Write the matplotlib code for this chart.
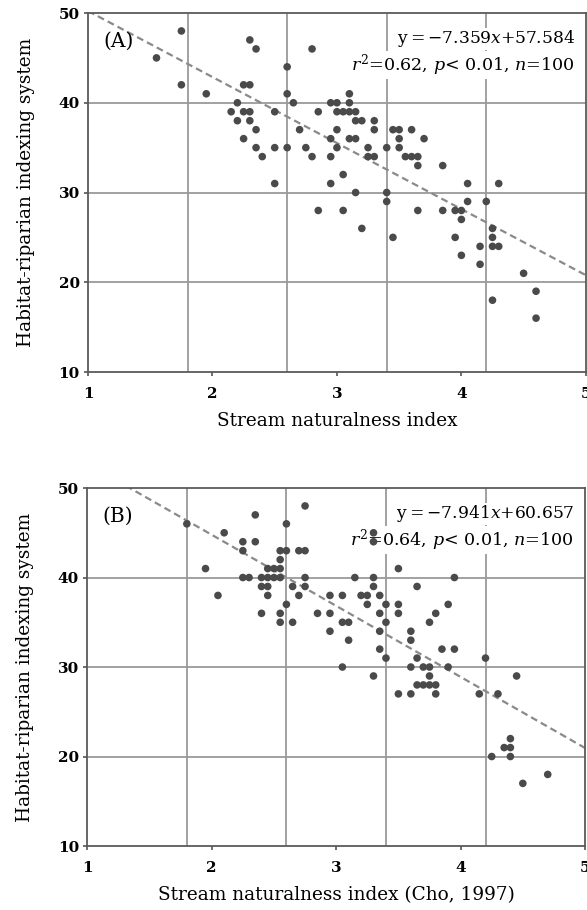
import numpy as np
import matplotlib.pyplot as plt
import matplotlib as mpl

mpl.rcParams['font.family'] = 'DejaVu Serif'
mpl.rcParams['mathtext.fontset'] = 'dejavuserif'
mpl.rcParams['lines.scale_dashes'] = False

# panel A: stream naturalness index vs habitat-riparian indexing system
xA = [1.55, 1.75, 1.75, 1.95, 2.3, 2.35, 2.8, 2.6, 2.25, 2.3, 2.6, 2.65, 2.2, 2.15, 2.25,
      2.3, 2.5, 2.85, 2.95, 3.0, 3.1, 3.1, 3.0, 3.05, 3.1, 3.15, 2.2, 2.3, 2.35, 3.15,
      3.2, 3.3, 3.3, 2.7, 3.0, 3.45, 3.5, 3.6, 2.25, 2.95, 3.1, 3.15, 3.5, 3.7, 2.35,
      2.5, 2.6, 2.75, 3.0, 3.25, 3.4, 3.5, 2.4, 2.8, 2.95, 3.25, 3.3, 3.55, 3.6, 3.65,
      3.65, 3.85, 3.05, 2.5, 2.95, 4.05, 4.3, 3.15, 3.4, 3.4, 4.05, 4.2, 2.85, 3.05, 3.65,
      3.85, 3.95, 4.0, 4.0, 3.2, 4.25, 4.25, 3.45, 3.95, 4.15, 4.25, 4.3, 4.0, 4.15, 4.5,
      4.6, 4.25, 4.6]
yA = [45, 48, 42, 41, 47, 46, 46, 44, 42, 42, 41, 40, 40, 39, 39,
      39, 39, 39, 40, 40, 41, 40, 39, 39, 39, 39, 38, 38, 37, 38,
      38, 38, 37, 37, 37, 37, 37, 37, 36, 36, 36, 36, 36, 36, 35,
      35, 35, 35, 35, 35, 35, 35, 34, 34, 34, 34, 34, 34, 34, 34,
      33, 33, 32, 31, 31, 31, 31, 30, 30, 29, 29, 29, 28, 28, 28,
      28, 28, 28, 27, 26, 26, 25, 25, 25, 24, 24, 24, 23, 22, 21,
      19, 18, 16]

# panel B: against the index of Cho (1997)
xB = [1.8, 2.1, 2.35, 2.75, 2.6, 2.25, 2.35, 2.25, 2.55, 2.6, 2.7, 2.75, 2.55, 1.95, 2.45,
      2.5, 2.55, 2.25, 2.3, 2.4, 2.45, 2.5, 2.55, 2.75, 2.4, 2.45, 2.65, 2.75, 2.05, 2.45,
      2.7, 2.6, 2.4, 2.55, 2.55, 2.65, 2.85, 2.95, 2.95, 3.05, 3.05, 3.1, 2.95, 3.1, 3.05,
      3.15, 3.3, 3.5, 3.95, 3.3, 3.65, 3.2, 3.25, 3.35, 3.25, 3.4, 3.5, 3.9, 3.35, 3.5,
      3.8, 3.4, 3.75, 3.35, 3.6, 3.6, 3.35, 3.85, 3.95, 3.4, 3.65, 4.2, 3.6, 3.7, 3.75,
      3.9, 3.3, 3.75, 4.45, 3.65, 3.7, 3.75, 3.8, 3.5, 3.6, 3.8, 4.15, 4.3, 4.4, 4.35,
      4.4, 4.4, 4.25, 4.5, 4.7, 3.3, 3.3]
yB = [46, 45, 47, 48, 46, 44, 44, 43, 43, 43, 43, 43, 42, 41, 41,
      41, 41, 40, 40, 40, 40, 40, 40, 40, 39, 39, 39, 39, 38, 38,
      38, 37, 36, 36, 35, 35, 36, 36, 38, 38, 35, 35, 34, 33, 30,
      40, 40, 41, 40, 39, 39, 38, 38, 38, 37, 37, 37, 37, 36, 36,
      36, 35, 35, 34, 34, 33, 32, 32, 32, 31, 31, 31, 30, 30, 30,
      30, 29, 29, 29, 28, 28, 28, 28, 27, 27, 27, 27, 27, 22, 21,
      21, 20, 20, 17, 18, 45, 44]

fitA = (-7.359, 57.584)
fitB = (-7.941, 60.657)
eqA = [r'y$=-$7.359$x$+57.584', r'$r^2$=0.62, $p$< 0.01, $n$=100']
eqB = [r'y$=-$7.941$x$+60.657', r'$r^2$=0.64, $p$< 0.01, $n$=100']

grid_x = [1.8, 2.6, 3.4, 4.2]
grid_y = [20, 30, 40]

fig = plt.figure(figsize=(5.87, 9.10), dpi=100)
axA = fig.add_axes([0.150, 0.5912, 0.848, 0.3945])
axB = fig.add_axes([0.1487, 0.0703, 0.848, 0.3934])


def panel(ax, x, y, fit, eq, tag, xlabel):
    for g in grid_x:
        ax.axvline(g, color='#9a9a9a', lw=1.3, zorder=0)
    for g in grid_y:
        ax.axhline(g, color='#9a9a9a', lw=1.3, zorder=0)
    ax.scatter(x, y, s=30, color='#4a4a4a', edgecolors='none', zorder=3)
    xx = np.linspace(1, 5, 50)
    ax.plot(xx, fit[0] * xx + fit[1], color='#8a8a8a', lw=1.6, dashes=(5, 3), zorder=2)
    ax.set_xlim(1, 5)
    ax.set_ylim(10, 50)
    ax.set_xticks([1, 2, 3, 4, 5])
    ax.set_yticks([10, 20, 30, 40, 50])
    ax.tick_params(direction='out', length=3, width=1.2, color='#555555',
                   labelsize=11, pad=3)
    for lab in ax.get_xticklabels() + ax.get_yticklabels():
        lab.set_fontweight('bold')
    ax.tick_params(axis='x', pad=8)
    for s in ax.spines.values():
        s.set_color('#5a5a5a')
        s.set_linewidth(1.3)
    ax.text(0.03, 0.92, tag, transform=ax.transAxes, fontsize=14.5,
            ha='left', va='center')
    ax.text(0.978, 0.928, eq[0], transform=ax.transAxes, fontsize=12.3,
            ha='right', va='center', zorder=2.5,
            bbox=dict(fc='white', ec='none', pad=0.5))
    ax.text(0.978, 0.855, eq[1], transform=ax.transAxes, fontsize=12.6,
            ha='right', va='center', zorder=2.5,
            bbox=dict(fc='white', ec='none', pad=0.5))
    ax.set_xlabel(xlabel, fontsize=13.3, labelpad=8)
    ax.set_ylabel('Habitat-riparian indexing system', fontsize=13.3, labelpad=17)


panel(axA, xA, yA, fitA, eqA, '(A)', 'Stream naturalness index')
panel(axB, xB, yB, fitB, eqB, '(B)', 'Stream naturalness index (Cho, 1997)')

fig.savefig('out.png', dpi=100)
